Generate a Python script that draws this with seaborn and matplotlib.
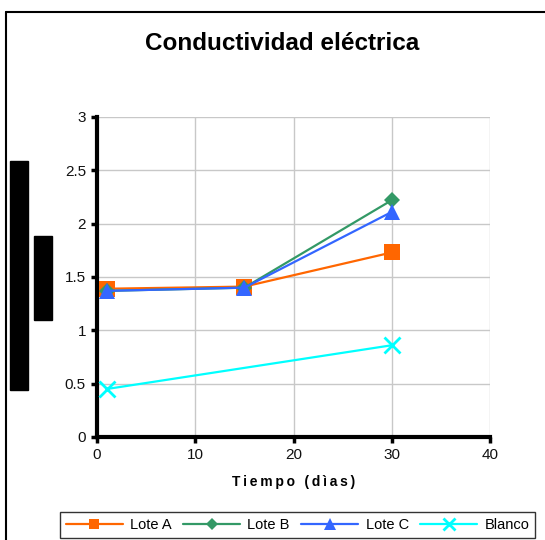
import matplotlib
matplotlib.use("Agg")
import matplotlib.pyplot as plt
import seaborn as sns
import pandas as pd
from matplotlib.lines import Line2D
from matplotlib.patches import Rectangle

# Data
dias_lotes = [1, 15, 30]
lote_a = [1.39, 1.41, 1.73]
lote_b = [1.37, 1.40, 2.22]
lote_c = [1.37, 1.40, 2.11]
dias_blanco = [1, 30]
blanco = [0.45, 0.86]

series_names = ["Lote A", "Lote B", "Lote C", "Blanco"]
x_ticks = [0, 10, 20, 30, 40]
y_ticks = [0, 0.5, 1, 1.5, 2, 2.5, 3]
y_tick_labels = ["0", "0.5", "1", "1.5", "2", "2.5", "3"]
x_label = "Tiempo (dìas)"

rows = []
for name, xs, ys in [("Lote A", dias_lotes, lote_a), ("Lote B", dias_lotes, lote_b),
                     ("Lote C", dias_lotes, lote_c), ("Blanco", dias_blanco, blanco)]:
    for x, y in zip(xs, ys):
        rows.append({"serie": name, "dias": x, "valor": y})
df = pd.DataFrame(rows)

sns.set_theme(style="white")
plt.rcParams['font.family'] = ['Liberation Sans', 'DejaVu Sans']
plt.rcParams['text.color'] = 'black'
plt.rcParams['axes.labelcolor'] = 'black'

colors = {"Lote A": "#FF6600", "Lote B": "#339966", "Lote C": "#3366FF", "Blanco": "#00FFFF"}
markers = {"Lote A": "s", "Lote B": "D", "Lote C": "^", "Blanco": "X"}
msizes = {"Lote A": 12, "Lote B": 8, "Lote C": 12, "Blanco": 11}

fig = plt.figure(figsize=(5.45, 5.4), dpi=100)
ax = fig.add_axes([97/545, 1-437/540, (490-97)/545, (437-117)/540])

for name in series_names:
    sub = df[df.serie == name]
    if name == "Blanco":
        sns.lineplot(data=sub, x="dias", y="valor", ax=ax, color=colors[name],
                     linewidth=1.6, marker="x", markersize=msizes[name],
                     markeredgewidth=2, markeredgecolor=colors[name], zorder=3)
    else:
        sns.lineplot(data=sub, x="dias", y="valor", ax=ax, color=colors[name],
                     linewidth=1.6, marker=markers[name], markersize=msizes[name],
                     markeredgewidth=0, zorder=3)

ax.set_xlim(0, 40)
ax.set_ylim(0, 3)
ax.set_xticks(x_ticks)
ax.set_yticks(y_ticks)
ax.set_yticklabels(y_tick_labels)
ax.grid(True, color="#C8C8C8", linewidth=1)
ax.set_axisbelow(True)
for s in ["top", "right"]:
    ax.spines[s].set_visible(False)
for s in ["left", "bottom"]:
    ax.spines[s].set_linewidth(3)
    ax.spines[s].set_color("black")
ax.tick_params(axis="both", which="major", length=4, width=2.5, direction="out",
               labelsize=11, colors="black", pad=4, bottom=True, left=True)
ax.tick_params(labelcolor="#111111")
spaced_label = "\u2009".join(list(x_label))
ax.set_xlabel(spaced_label, fontsize=10, fontweight="bold", labelpad=9)
ax.set_ylabel("")

fig.text(282/545, 1-44/540, "Conductividad eléctrica", ha="center", va="center",
         fontsize=17.5, fontweight="bold", color="black")

# Figure frame
fig.add_artist(Line2D([6/545, 1.0], [1-12/540, 1-12/540], color="black", linewidth=1.5,
                      transform=fig.transFigure))
fig.add_artist(Line2D([6/545, 6/545], [0, 1-12/540], color="black", linewidth=1.5,
                      transform=fig.transFigure))

# Redaction bars
fig.add_artist(Rectangle((10/545, 1-390/540), 18/545, 229/540, color="black",
                         transform=fig.transFigure))
fig.add_artist(Rectangle((34/545, 1-320/540), 18/545, 84/540, color="black",
                         transform=fig.transFigure))

# Legend
handles = []
for name in series_names:
    if name == "Blanco":
        h = Line2D([], [], color=colors[name], marker="x", markersize=8, markeredgewidth=2, linewidth=1.6)
    else:
        h = Line2D([], [], color=colors[name], marker=markers[name],
                   markersize={"Lote A": 7, "Lote B": 6, "Lote C": 8}[name],
                   markeredgewidth=0, linewidth=1.6)
    handles.append(h)
leg = fig.legend(handles, series_names, loc="upper left", bbox_to_anchor=(60/545, 1-512/540),
                 ncol=4, frameon=True, fontsize=10.5, handlelength=3.9, columnspacing=0.8,
                 handletextpad=0.5, borderpad=0.4, fancybox=False, borderaxespad=0)
leg.get_frame().set_edgecolor("black")
leg.get_frame().set_linewidth(1)

fig.savefig("out.png", dpi=100)
